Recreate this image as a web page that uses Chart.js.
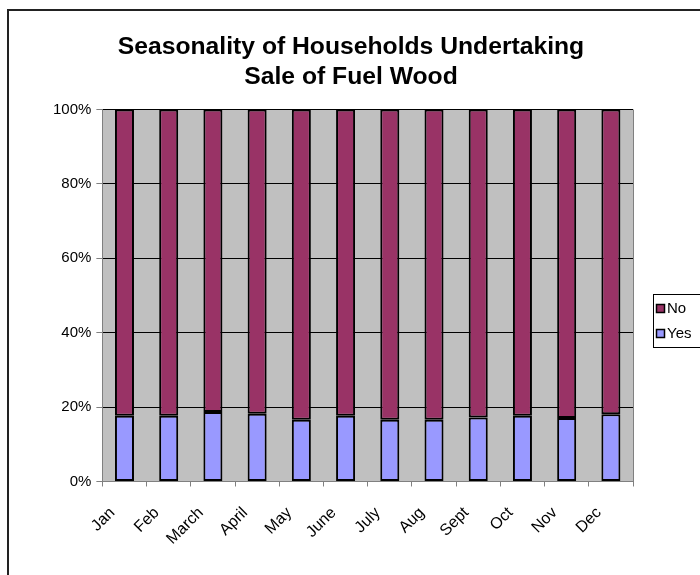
<!DOCTYPE html>
<html>
<head>
<meta charset="utf-8">
<title>Seasonality of Households Undertaking Sale of Fuel Wood</title>
<script src="https://cdn.jsdelivr.net/npm/chart.js@4"></script>
<style>
  html, body { margin: 0; padding: 0; background: #fff; }
  #wrap { position: relative; width: 700px; height: 575px; }
</style>
</head>
<body>
<div id="wrap"><canvas id="chart" width="700" height="575"></canvas></div>
<script>
// months and share of households (%) selling fuel wood
const months = ['Jan', 'Feb', 'March', 'April', 'May', 'June', 'July', 'Aug', 'Sept', 'Oct', 'Nov', 'Dec'];
const yesPct = [17.7, 17.7, 18.7, 18.2, 16.6, 17.7, 16.6, 16.6, 17.2, 17.7, 17.1, 18.1];
const noPct = [82.3, 82.3, 81.3, 81.8, 83.4, 82.3, 83.4, 83.4, 82.8, 82.3, 82.9, 81.9];
const yTicks = [0, 20, 40, 60, 80, 100];
const titleLines = ['Seasonality of Households Undertaking', 'Sale of Fuel Wood'];

const FONT = '"Liberation Sans", Arial, sans-serif';

// grey plot background, outer frame and the two-line title
const frame = {
  id: 'frame',
  beforeDraw(chart) {
    const { ctx, chartArea: a } = chart;
    ctx.save();
    ctx.fillStyle = '#c0c0c0';
    ctx.fillRect(a.left, a.top, a.right - a.left, a.bottom - a.top);
    ctx.strokeStyle = '#222';
    ctx.lineWidth = 2;
    ctx.beginPath();
    ctx.moveTo(8, 580);
    ctx.lineTo(8, 10);
    ctx.lineTo(705, 10);
    ctx.stroke();

    ctx.fillStyle = '#000';
    ctx.font = 'bold 24.7px ' + FONT;
    ctx.textAlign = 'center';
    ctx.textBaseline = 'middle';
    titleLines.forEach((t, i) => ctx.fillText(t, 351, 47 + i * 30));
    ctx.restore();
  },
  afterDatasetsDraw(chart) {
    // gray right edge of plot area
    const { ctx, chartArea: a } = chart;
    ctx.save();
    ctx.strokeStyle = '#808080';
    ctx.lineWidth = 1;
    ctx.beginPath();
    ctx.moveTo(a.right + 0.5, a.top);
    ctx.lineTo(a.right + 0.5, a.bottom);
    ctx.stroke();
    ctx.restore();
  }
};

// boxed legend on the right, top item = last dataset
const boxLegend = {
  id: 'boxLegend',
  afterDraw(chart) {
    const { ctx } = chart;
    const x = 653, y = 294, w = 60, h = 53;
    ctx.save();
    ctx.fillStyle = '#fff';
    ctx.fillRect(x, y, w, h);
    ctx.strokeStyle = '#000';
    ctx.lineWidth = 1;
    ctx.strokeRect(x + 0.5, y + 0.5, w, h);
    const sets = chart.data.datasets.slice().reverse();
    ctx.font = '15px ' + FONT;
    ctx.textBaseline = 'middle';
    sets.forEach((ds, i) => {
      const cy = 308 + i * 25;
      ctx.fillStyle = ds.backgroundColor;
      ctx.fillRect(656, cy - 4, 9, 9);
      ctx.strokeStyle = '#000';
      ctx.lineWidth = 1.5;
      ctx.strokeRect(656.5, cy - 3.5, 8, 8);
      ctx.fillStyle = '#000';
      ctx.fillText(ds.label, 667, cy + 1);
    });
    ctx.restore();
  }
};

new Chart(document.getElementById('chart'), {
  type: 'bar',
  data: {
    labels: months,
    datasets: [
      {
        label: 'Yes',
        data: yesPct,
        backgroundColor: '#9999ff',
        borderColor: '#000',
        borderWidth: 2,
        borderSkipped: false,
        barPercentage: 0.43,
        categoryPercentage: 1
      },
      {
        label: 'No',
        data: noPct,
        backgroundColor: '#993366',
        borderColor: '#000',
        borderWidth: 2,
        borderSkipped: false,
        barPercentage: 0.43,
        categoryPercentage: 1
      }
    ]
  },
  options: {
    responsive: false,
    animation: false,
    layout: { padding: { left: 48, right: 67, top: 109.5, bottom: 9.5 } },
    plugins: {
      legend: { display: false },
      tooltip: { enabled: false },
      title: { display: false }
    },
    scales: {
      x: {
        stacked: true,
        border: { color: '#808080', width: 1 },
        grid: { offset: true, drawOnChartArea: false, drawTicks: true, tickLength: 5, tickColor: '#808080' },
        ticks: {
          color: '#000',
          font: { family: FONT, size: 16 },
          minRotation: 45,
          maxRotation: 45,
          padding: 17,
          labelOffset: -12
        }
      },
      y: {
        stacked: true,
        min: 0,
        max: 100,
        afterBuildTicks(scale) { scale.ticks = yTicks.map(v => ({ value: v })); },
        border: { color: '#808080', width: 1 },
        grid: { color: '#000', lineWidth: 1, drawTicks: true, tickLength: 6, tickColor: '#808080' },
        ticks: {
          color: '#000',
          font: { family: FONT, size: 15 },
          padding: 5,
          callback: v => v + '%'
        }
      }
    }
  },
  plugins: [frame, boxLegend]
});
</script>
</body>
</html>
